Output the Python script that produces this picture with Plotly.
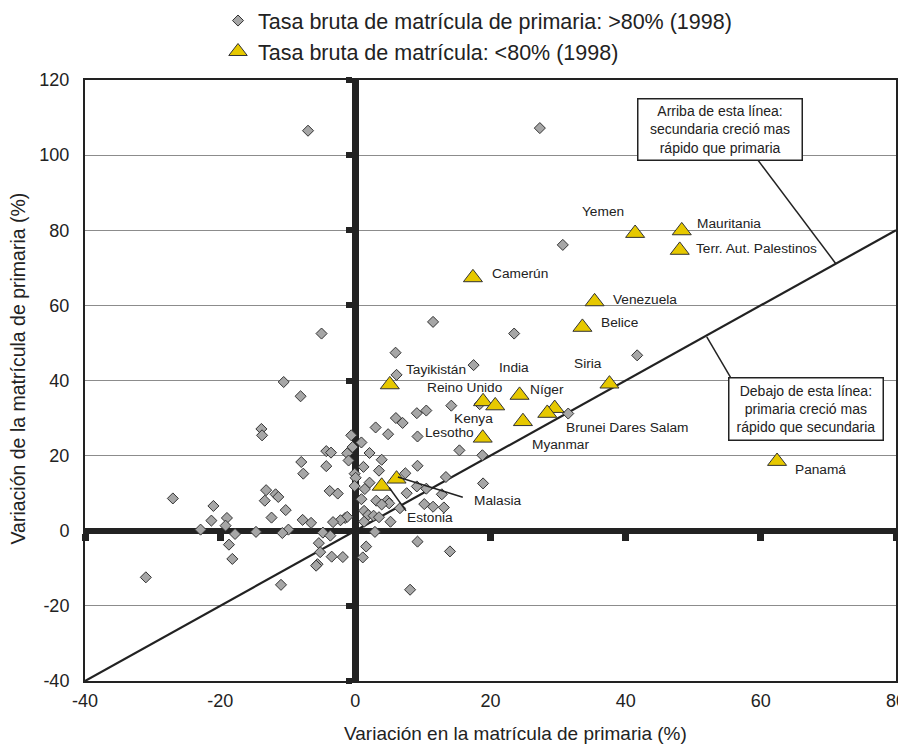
import plotly.graph_objects as go

# grey diamonds: gross primary enrolment > 80% (1998)
dia_x = [-7.0, 27.3, 30.7, 11.5, 23.5, -5.0, 5.95, 41.7, 17.5, 6.1, -10.6, -8.1, 18.4, 14.2,
         10.5, 9.1, 31.5, 6.0, 7.0, 3.0, -13.9, -13.8, -0.6, 4.85, 9.2, 0.9, -0.4, 15.4,
         -4.3, -3.6, -1.2, 2.1, 18.8, 3.9, -1.0, -8.0, 9.2, -4.3, 1.2, 3.5, 7.4, -7.7,
         -0.1, 0.05, 13.4, 2.1, 18.9, -0.1, 1.4, 9.1, 10.5, -13.2, -3.8, -11.8, -2.6, 12.8,
         7.6, -11.4, -27.0, 0.9, 3.1, 4.7, -13.4, 5.0, 3.9, 10.2, -21.0, 11.5, 13.1, 6.6,
         -10.3, 1.3, 1.9, 2.7, 3.5, -12.4, -19.0, -1.5, -1.2, -7.8, -21.3, -2.2, -6.55, -3.3,
         1.3, 5.2, -19.2, -22.9, -9.9, -14.7, -10.8, -4.8, 2.9, -17.8, -3.7, 9.2, -5.4,
         -18.7, 1.6, 14.0, -5.2, -3.5, -1.85, 1.1, -18.2, -5.6, -5.8, -31.0, -11.0, 8.1]
dia_y = [106.5, 107.2, 76.1, 55.6, 52.5, 52.5, 47.4, 46.7, 44.1, 41.5, 39.6, 35.8, 33.7, 33.3,
         32.0, 31.3, 31.2, 30.0, 28.7, 27.5, 27.1, 25.4, 25.4, 25.7, 25.1, 23.5, 22.3, 21.4,
         21.2, 20.8, 20.6, 20.7, 20.1, 18.9, 18.7, 18.3, 17.3, 17.2, 17.0, 16.0, 15.3, 15.2,
         15.2, 14.1, 14.3, 12.8, 12.6, 11.9, 11.1, 11.8, 11.2, 10.8, 10.6, 9.7, 9.9, 9.7,
         10.0, 9.0, 8.6, 8.4, 8.0, 8.0, 8.0, 7.3, 7.0, 7.1, 6.6, 6.4, 6.2, 6.0,
         5.5, 5.3, 4.2, 4.0, 3.6, 3.5, 3.4, 3.4, 3.7, 2.9, 2.7, 2.8, 2.1, 2.3,
         2.4, 2.4, 1.35, 0.3, 0.3, -0.3, -0.6, -0.5, -0.3, -0.85, -1.3, -2.9, -3.3,
         -3.7, -4.2, -5.5, -5.7, -6.9, -7.0, -7.1, -7.5, -8.9, -9.3, -12.4, -14.4, -15.7]

# yellow triangles: gross enrolment < 80% (1998)
tri_names = ["Yemen", "Mauritania", "Terr. Aut. Palestinos", "Camerún", "Venezuela", "Belice",
             "Siria", "Tayikistán", "India", "Reino Unido", "Kenya", "Níger",
             "Brunei Dares Salam", "Myanmar", "Lesotho", "Panamá", "Estonia", "Malasia"]
tri_x = [41.4, 48.3, 48.0, 17.4, 35.4, 33.6, 37.6, 5.1, 24.3, 18.9, 20.7, 29.5,
         28.4, 24.8, 18.85, 62.4, 3.9, 6.1]
tri_y = [79.2, 79.9, 74.7, 67.4, 61.0, 54.2, 39.1, 38.9, 36.1, 34.4, 33.3, 32.6,
         31.3, 29.1, 24.7, 18.5, 11.9, 13.8]

# country labels (left edge of text)
lab_text = ["Yemen", "Mauritania", "Terr. Aut. Palestinos", "Camerún", "Venezuela", "Belice",
            "Siria", "India", "Tayikistán", "Reino Unido", "Níger", "Kenya", "Lesotho",
            "Myanmar", "Brunei Dares Salam", "Panamá", "Malasia", "Estonia"]
lab_x = [33.3, 50.3, 50.1, 19.9, 37.8, 36.1, 32.0, 21.0, 7.2, 10.3, 25.5, 14.3, 10.0,
         25.8, 30.9, 64.8, 17.3, 7.3]
lab_y = [84.9, 81.9, 75.2, 68.4, 61.5, 55.4, 44.6, 43.4, 42.8, 38.2, 37.7, 30.0, 26.1,
         23.0, 27.5, 16.3, 8.1, 3.6]

# 45 degree reference line
diag_x = [-40, 80]
diag_y = [-40, 80]

ticks_x = [-40, -20, 0, 20, 40, 60, 80]
ticks_y = [-40, -20, 0, 20, 40, 60, 80, 100, 120]

FONT = "Liberation Sans, Arial, sans-serif"
INK = "#222222"

fig = go.Figure()

fig.add_trace(go.Scatter(x=diag_x, y=diag_y, mode="lines",
                         line=dict(color=INK, width=2.2), showlegend=False, hoverinfo="skip"))
fig.add_trace(go.Scatter(x=dia_x, y=dia_y, mode="markers",
                         name="Tasa bruta de matrícula de primaria: >80% (1998)",
                         marker=dict(symbol="diamond", size=8.5, color="#a6a6a6",
                                     line=dict(color="#333333", width=1))))
fig.add_trace(go.Scatter(x=tri_x, y=tri_y, mode="markers", text=tri_names,
                         name="Tasa bruta de matrícula: <80% (1998)",
                         marker=dict(symbol="triangle-up", size=16.5, color="#e6c800",
                                     line=dict(color="#333333", width=1))))
# dummy trace so the thick "zero" axes get drawn
fig.add_trace(go.Scatter(x=[None], y=[None], xaxis="x2", yaxis="y2",
                         showlegend=False, hoverinfo="skip"))

for t, x, y in zip(lab_text, lab_x, lab_y):
    fig.add_annotation(x=x, y=y, text=t, showarrow=False, xanchor="left", yanchor="middle",
                       font=dict(size=13.7, color=INK, family=FONT))

# callout boxes
fig.add_annotation(x=53.95, y=106.9, text="Arriba de esta línea:<br>secundaria creció mas<br>rápido que primaria",
                   showarrow=False, width=159, height=56, borderpad=2, bgcolor="white",
                   bordercolor=INK, borderwidth=1.5, font=dict(size=14, color=INK, family=FONT))
fig.add_annotation(x=66.7, y=32.5, text="Debajo de esta línea:<br>primaria creció mas<br>rápido que secundaria",
                   showarrow=False, width=149, height=57, borderpad=2, bgcolor="white",
                   bordercolor=INK, borderwidth=1.5, font=dict(size=14, color=INK, family=FONT))

# axis titles
fig.add_annotation(x=0.7448, y=-0.088, xref="paper", yref="paper", xanchor="right",
                   yanchor="middle", showarrow=False,
                   text="Variación en la matrícula de primaria (%)",
                   font=dict(size=19, color=INK, family=FONT))
fig.add_annotation(x=-0.0826, y=0.52, xref="paper", yref="paper", xanchor="center",
                   yanchor="middle", showarrow=False, textangle=-90,
                   text="Variación de la matrícula de primaria (%)",
                   font=dict(size=19.5, color=INK, family=FONT))

# pointer / leader lines
seg = [((59.6, 98.6), (71.1, 71.1)),
       ((52.0, 51.6), (55.5, 40.9)),
       ((5.0, 11.5), (7.5, 5.3)),
       ((6.3, 14.3), (15.9, 8.9))]
for (x0, y0), (x1, y1) in seg:
    fig.add_shape(type="line", x0=x0, y0=y0, x1=x1, y1=y1, xref="x", yref="y",
                  line=dict(color=INK, width=1.5))

fig.update_layout(
    width=906, height=752,
    margin=dict(l=77, r=18, t=72, b=79, autoexpand=False),
    plot_bgcolor="white", paper_bgcolor="white",
    font=dict(family=FONT, color=INK, size=18),
    legend=dict(x=0.164, y=1.133, xanchor="left", yanchor="top",
                font=dict(size=21.5, family=FONT, color=INK), itemwidth=30,
                bgcolor="rgba(0,0,0,0)"),
    xaxis=dict(range=[-40, 80], tickvals=ticks_x, ticktext=[str(v) for v in ticks_x],
               showgrid=False, zeroline=False,
               showline=True, mirror=True, linecolor=INK, linewidth=2,
               ticks="outside", ticklen=2, tickcolor="rgba(0,0,0,0)", automargin=False),
    yaxis=dict(range=[-40, 120], tickvals=ticks_y, ticktext=[str(v) for v in ticks_y],
               showgrid=True, gridcolor="#8c8c8c",
               gridwidth=1, zeroline=False, showline=True, mirror=True, linecolor=INK,
               linewidth=2, ticks="outside", ticklen=10, tickcolor="rgba(0,0,0,0)",
               automargin=False),
    xaxis2=dict(overlaying="x", anchor="free", position=0.25, range=[-40, 80],
                tickvals=[-40, -20, 20, 40, 60, 80], showticklabels=False,
                showgrid=False, zeroline=False, showline=True, linecolor=INK, linewidth=6,
                ticks="outside", ticklen=7, tickwidth=7, tickcolor=INK, layer="below traces"),
    yaxis2=dict(overlaying="y", anchor="free", position=1/3, range=[-40, 120],
                tickvals=[-40, -20, 20, 40, 60, 80, 100, 120], showticklabels=False,
                showgrid=False, zeroline=False, showline=True, linecolor=INK, linewidth=7,
                ticks="outside", ticklen=6, tickwidth=6, tickcolor=INK, layer="below traces"),
)

fig.write_html("out.html")
